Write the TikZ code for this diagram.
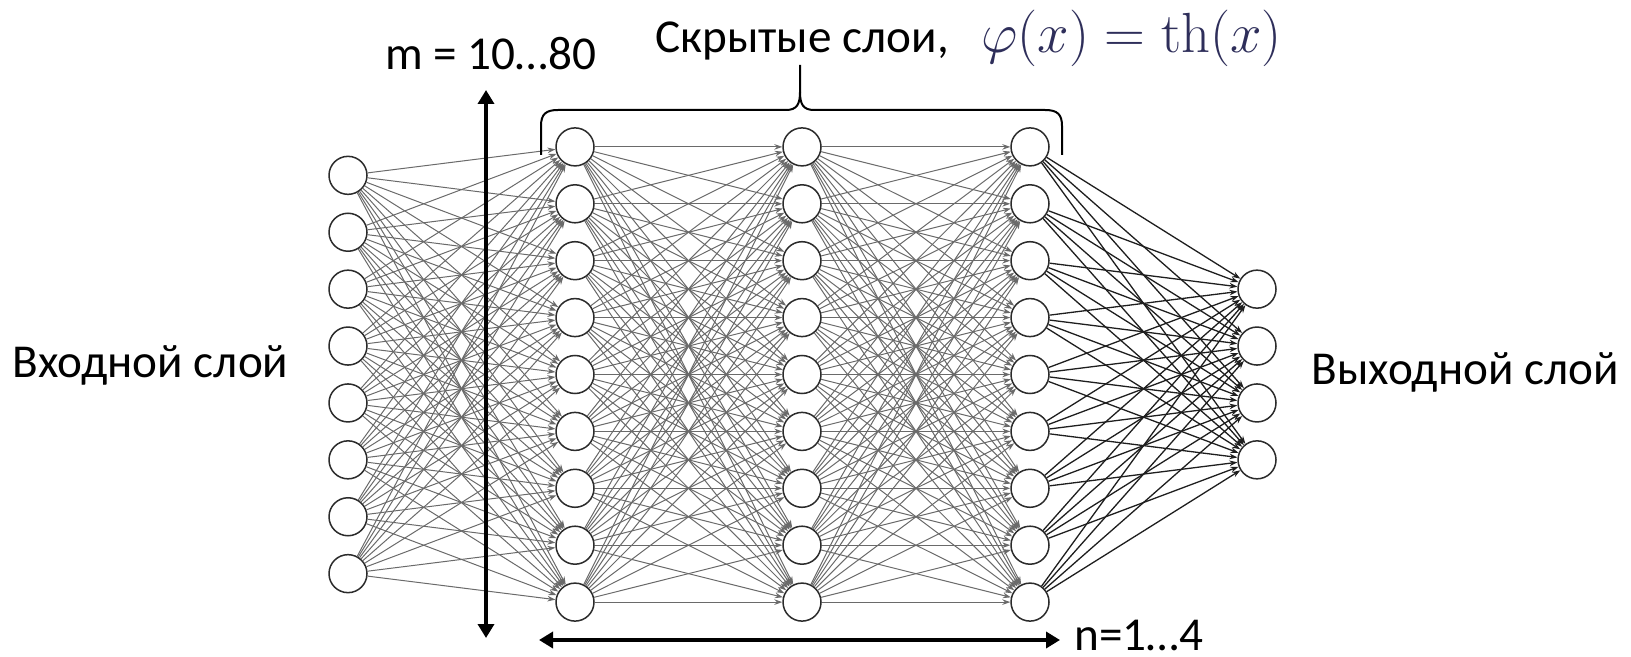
\RequirePackage{fix-cm}
\documentclass[tikz,border=0pt]{standalone}
\usepackage[no-math]{fontspec}
\setmainfont{Carlito}
\usepackage{tikz}
\usetikzlibrary{arrows.meta,positioning,calc}
\definecolor{Ink}{HTML}{2B2B2B}
\definecolor{Wire}{HTML}{6A6A6A}
\definecolor{WireDark}{HTML}{1E1E1E}
\definecolor{MathInk}{HTML}{2E2E5A}

\begin{document}
\begin{tikzpicture}[x=0.5pt,y=-0.5pt,
  neuron/.style={circle,draw=Ink,line width=0.75pt,fill=white,minimum size=19pt,inner sep=0pt},
  link/.style={-{Stealth[length=4pt,width=2.8pt]},line width=0.5pt,Wire},
  outlink/.style={-{Stealth[length=4pt,width=2.8pt]},line width=0.65pt,WireDark},
  dimarrow/.style={{Triangle[length=7pt,width=8pt]}-{Triangle[length=7pt,width=8pt]},line width=2pt,black},
  label/.style={font=\fontsize{23.6}{28}\selectfont,inner sep=0pt}]
  \useasboundingbox (0,0) rectangle (1631,657);
  % layers
  \foreach \k in {1,...,8} \node[neuron] (i\k) at (348,{374.5+(\k-4.5)*56.9}) {};
  \foreach \L/\x in {a/575,b/802,c/1030}
    \foreach \k in {1,...,9} \node[neuron] (\L\k) at (\x,{374.5+(\k-5)*56.9}) {};
  \foreach \k in {1,...,4} \node[neuron] (o\k) at (1257,{374.5+(\k-2.5)*56.9}) {};
  % weights
  \foreach \s in {1,...,8} \foreach \t in {1,...,9} \draw[link] (i\s) -- (a\t);
  \foreach \s in {1,...,9} \foreach \t in {1,...,9} {
    \draw[link] (a\s) -- (b\t);
    \draw[link] (b\s) -- (c\t);
  }
  \foreach \s in {1,...,9} \foreach \t in {1,...,4} \draw[outlink] (c\s) -- (o\t);
  % sizes
  \coordinate (mtop) at (486,90);
  \coordinate (mbot) at (486,638);
  \coordinate (nleft) at (539,640);
  \coordinate (nright) at (1060,640);
  \draw[dimarrow] (mbot) -- (mtop);
  \draw[dimarrow] (nleft) -- (nright);
  % brace over hidden layers
  \draw[line width=1pt] (541,155) -- (541,126) .. controls (541,114) and (546,110) .. (558,110)
    -- (786,110) .. controls (797,110) and (800,104) .. (800,92) -- (800,65);
  \draw[line width=1pt] (800,92) .. controls (800,104) and (803,110) .. (814,110)
    -- (1045,110) .. controls (1057,110) and (1062,114) .. (1062,126) -- (1062,155);
  % labels
  \node[label,anchor=base west] (mlab) at (385,70) {m = 10…80};
  \node[label,anchor=base west] (nlab) at (1074,650) {n=1…4};
  \node[label,anchor=base west] (inlab) at (12,378) {Входной слой};
  \node[label,anchor=base west] (outlab) at (1311,384) {Выходной слой};
  \node[label,anchor=base west] (hidlab) at (655,53) {Скрытые слои,};
  \node[anchor=base west,inner sep=0pt,text=MathInk,font=\fontsize{28.3}{32}\selectfont] (act) at (981,53) {$\varphi(x)=\mathrm{th}(x)$};
\end{tikzpicture}
\end{document}
